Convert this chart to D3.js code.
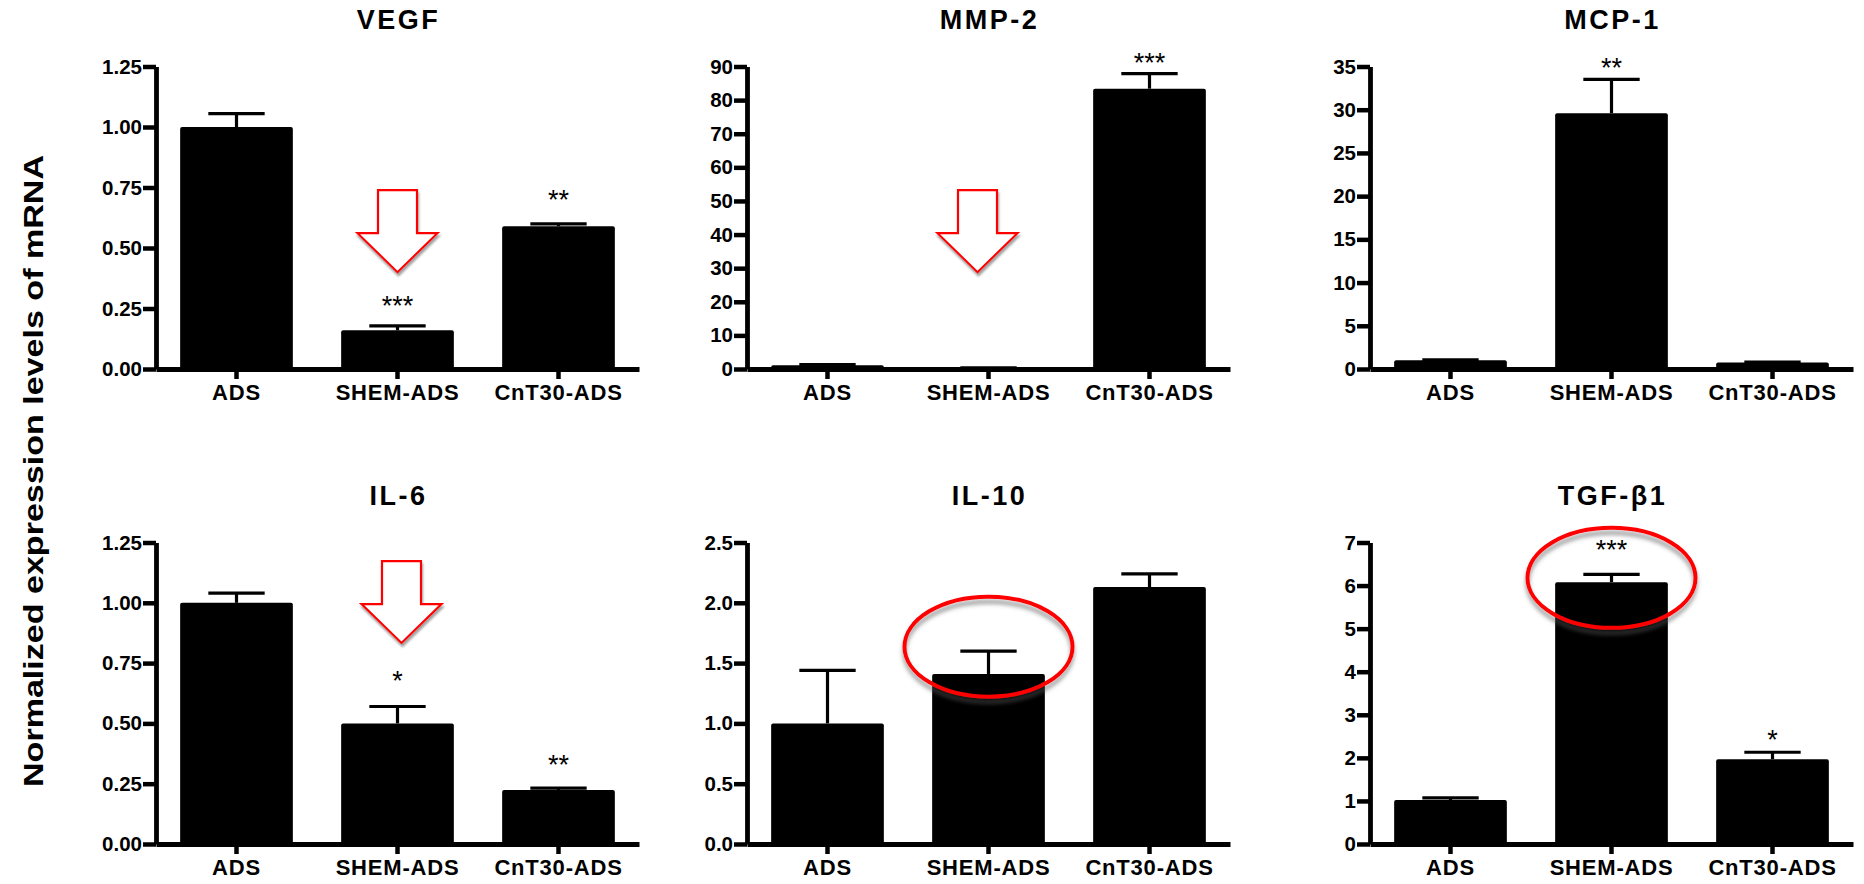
<!DOCTYPE html>
<html>
<head>
<meta charset="utf-8">
<script src="https://cdn.jsdelivr.net/npm/d3@7"></script>
<style>
  html, body { margin: 0; padding: 0; background: #fff; }
  svg { display: block; }
  text { font-family: 'Liberation Sans', Arial, Helvetica, sans-serif; }
</style>
</head>
<body>
<svg id="chart" width="1864" height="884"></svg>
<script>
// ---------------- DATA ----------------
const categories = ["ADS", "SHEM-ADS", "CnT30-ADS"];
const panelTitles = ["VEGF", "MMP-2", "MCP-1", "IL-6", "IL-10", "TGF-\u03B21"];
const yAxisTitle = "Normalized expression levels of mRNA";

const vegfMean = [1.00, 0.16, 0.59];
const vegfSem  = [0.055, 0.018, 0.01];
const mmp2Mean = [1.1, 0.3, 83.4];
const mmp2Sem  = [0.2, 0.05, 4.5];
const mcp1Mean = [1.0, 29.6, 0.75];
const mcp1Sem  = [0.05, 3.9, 0.05];
const il6Mean  = [1.0, 0.50, 0.224];
const il6Sem   = [0.04, 0.07, 0.008];
const il10Mean = [1.0, 1.41, 2.13];
const il10Sem  = [0.44, 0.19, 0.11];
const tgfMean  = [1.02, 6.08, 1.97];
const tgfSem   = [0.05, 0.18, 0.16];

const vegfTicks = [0, 0.25, 0.5, 0.75, 1.0, 1.25];
const mmp2Ticks = [0, 10, 20, 30, 40, 50, 60, 70, 80, 90];
const mcp1Ticks = [0, 5, 10, 15, 20, 25, 30, 35];
const il6Ticks  = [0, 0.25, 0.5, 0.75, 1.0, 1.25];
const il10Ticks = [0, 0.5, 1.0, 1.5, 2.0, 2.5];
const tgfTicks  = [0, 1, 2, 3, 4, 5, 6, 7];

// significance marks and their (data-unit) heights
const vegfSig = ["", "***", "**"];   const vegfSigY = [null, 0.286, 0.724];
const mmp2Sig = ["", "", "***"];     const mmp2SigY = [null, null, 92.7];
const mcp1Sig = ["", "**", ""];      const mcp1SigY = [null, 35.5, null];
const il6Sig  = ["", "*", "**"];     const il6SigY  = [null, 0.70, 0.353];
const il10Sig = ["", "", ""];        const il10SigY = [null, null, null];
const tgfSig  = ["", "***", "*"];    const tgfSigY  = [null, 6.96, 2.55];

// annotation anchors (data units)
const arrowTips   = [0.40, 28.8, 0.833];   // VEGF, MMP-2, IL-6 (on SHEM-ADS)
const ellipseCy   = [1.636, 6.18];         // IL-10, TGF-b1 (on SHEM-ADS)

// ---------------- LAYOUT ----------------
const fmt2 = d3.format(".2f"), fmt1 = d3.format(".1f"), fmt0 = d3.format("d");
const panels = [
  {title: panelTitles[0], mean: vegfMean, sem: vegfSem, ticks: vegfTicks, fmt: fmt2, sig: vegfSig, sigY: vegfSigY, col: 0, row: 0},
  {title: panelTitles[1], mean: mmp2Mean, sem: mmp2Sem, ticks: mmp2Ticks, fmt: fmt0, sig: mmp2Sig, sigY: mmp2SigY, col: 1, row: 0},
  {title: panelTitles[2], mean: mcp1Mean, sem: mcp1Sem, ticks: mcp1Ticks, fmt: fmt0, sig: mcp1Sig, sigY: mcp1SigY, col: 2, row: 0},
  {title: panelTitles[3], mean: il6Mean,  sem: il6Sem,  ticks: il6Ticks,  fmt: fmt2, sig: il6Sig,  sigY: il6SigY,  col: 0, row: 1},
  {title: panelTitles[4], mean: il10Mean, sem: il10Sem, ticks: il10Ticks, fmt: fmt1, sig: il10Sig, sigY: il10SigY, col: 1, row: 1},
  {title: panelTitles[5], mean: tgfMean,  sem: tgfSem,  ticks: tgfTicks,  fmt: fmt0, sig: tgfSig,  sigY: tgfSigY,  col: 2, row: 1},
];
const colX = [156, 747, 1370];
const step = 161, plotW = step * 3;
const rows = [{top: 66.5, zero: 369}, {top: 542.5, zero: 844}];

const svg = d3.select("#chart");
svg.append("rect").attr("width", 1864).attr("height", 884).attr("fill", "#fff");

const defs = svg.append("defs");
const f1 = defs.append("filter").attr("id", "arrowShadow").attr("x", "-20%").attr("y", "-20%").attr("width", "140%").attr("height", "140%");
f1.append("feDropShadow").attr("dx", 1).attr("dy", 3).attr("stdDeviation", 1.2).attr("flood-color", "#8a8a8a").attr("flood-opacity", 0.8);
const f2 = defs.append("filter").attr("id", "ellShadow").attr("x", "-20%").attr("y", "-20%").attr("width", "140%").attr("height", "140%");
f2.append("feDropShadow").attr("dx", 0).attr("dy", 5).attr("stdDeviation", 2).attr("flood-color", "#555").attr("flood-opacity", 0.6);

// y-axis global title
svg.append("text")
  .attr("transform", "translate(43,471) rotate(-90)")
  .attr("text-anchor", "middle")
  .attr("font-size", 28).attr("font-weight", "bold")
  .attr("textLength", 632).attr("lengthAdjust", "spacingAndGlyphs")
  .attr("fill", "#000")
  .text(yAxisTitle);

const scales = [];
panels.forEach((p, i) => {
  const x0 = colX[p.col];
  const r = rows[p.row];
  const x = d3.scaleBand().domain(categories).range([x0, x0 + plotW]).paddingInner(0.3).paddingOuter(0.15);
  const y = d3.scaleLinear().domain([0, p.ticks[p.ticks.length - 1]]).range([r.zero, r.top]);
  scales.push({x, y});
  const g = svg.append("g");

  // bars
  g.selectAll("rect.bar").data(categories).join("rect")
    .attr("class", "bar")
    .attr("x", d => x(d)).attr("width", x.bandwidth())
    .attr("y", (d, k) => y(p.mean[k]))
    .attr("height", (d, k) => r.zero - y(p.mean[k]))
    .attr("rx", 2).attr("fill", "#000");

  // error bars (upper only)
  const capW = x.bandwidth() * 0.5;
  categories.forEach((c, k) => {
    const cx = x(c) + x.bandwidth() / 2;
    const yt = y(p.mean[k] + p.sem[k]);
    const yb = y(p.mean[k]);
    g.append("line").attr("x1", cx).attr("x2", cx).attr("y1", yb).attr("y2", yt)
      .attr("stroke", "#000").attr("stroke-width", 3.2);
    g.append("line").attr("x1", cx - capW / 2).attr("x2", cx + capW / 2).attr("y1", yt).attr("y2", yt)
      .attr("stroke", "#000").attr("stroke-width", 3.2);
    if (p.sig[k]) {
      g.append("text").attr("x", cx).attr("y", y(p.sigY[k]) + 15)
        .attr("text-anchor", "middle").attr("font-size", 27).attr("fill", "#000")
        .text(p.sig[k]);
    }
  });

  // y axis
  const ya = g.append("g").attr("transform", `translate(${x0},0)`)
    .call(d3.axisLeft(y).tickValues(p.ticks).tickFormat(p.fmt).tickSize(13).tickSizeOuter(0).tickPadding(1));
  ya.select(".domain").attr("stroke", "#000").attr("stroke-width", 4.8);
  ya.selectAll(".tick line").attr("stroke", "#000").attr("stroke-width", 4.5);
  ya.selectAll(".tick text").attr("font-size", 20.5).attr("font-weight", "bold").attr("fill", "#000")
    .attr("font-family", "'Liberation Sans', Arial, sans-serif");

  // x axis
  const xa = g.append("g").attr("transform", `translate(0,${r.zero})`)
    .call(d3.axisBottom(x).tickSize(10).tickSizeOuter(0).tickPadding(5));
  xa.select(".domain").attr("stroke", "#000").attr("stroke-width", 4.8);
  xa.selectAll(".tick line").attr("stroke", "#000").attr("stroke-width", 4.5);
  xa.selectAll(".tick text").attr("font-size", 22).attr("font-weight", "bold").attr("fill", "#000")
    .attr("letter-spacing", "0.8px")
    .attr("font-family", "'Liberation Sans', Arial, sans-serif");

  // title
  g.append("text").attr("x", x(categories[1]) + x.bandwidth() / 2 + 1).attr("y", r.top - 37.5)
    .attr("text-anchor", "middle").attr("font-size", 27).attr("font-weight", "bold")
    .attr("letter-spacing", "2.5px").attr("fill", "#000")
    .text(p.title);
});

// ---------------- ANNOTATIONS ----------------
function drawArrow(panelIdx, tipVal, dx) {
  const {x, y} = scales[panelIdx];
  const cx = x(categories[1]) + x.bandwidth() / 2 + dx;
  const tip = y(tipVal);
  const headH = 39, shaftH = 43, headW = 80, shaftW = 39;
  const pts = [
    [cx - shaftW / 2, tip - headH - shaftH],
    [cx + shaftW / 2, tip - headH - shaftH],
    [cx + shaftW / 2, tip - headH],
    [cx + headW / 2, tip - headH],
    [cx, tip],
    [cx - headW / 2, tip - headH],
    [cx - shaftW / 2, tip - headH],
  ];
  svg.append("path").attr("d", "M" + pts.map(q => q.join(",")).join("L") + "Z")
    .attr("fill", "#fff").attr("stroke", "#ff0000").attr("stroke-width", 2.2)
    .attr("filter", "url(#arrowShadow)");
}
drawArrow(0, arrowTips[0], 0);
drawArrow(1, arrowTips[1], -11);
drawArrow(3, arrowTips[2], 4);

function drawEllipse(panelIdx, cyVal) {
  const {x, y} = scales[panelIdx];
  const cx = x(categories[1]) + x.bandwidth() / 2;
  svg.append("ellipse").attr("cx", cx).attr("cy", y(cyVal)).attr("rx", 84).attr("ry", 50)
    .attr("fill", "none").attr("stroke", "#ff0000").attr("stroke-width", 4)
    .attr("filter", "url(#ellShadow)");
}
drawEllipse(4, ellipseCy[0]);
drawEllipse(5, ellipseCy[1]);
</script>
</body>
</html>
